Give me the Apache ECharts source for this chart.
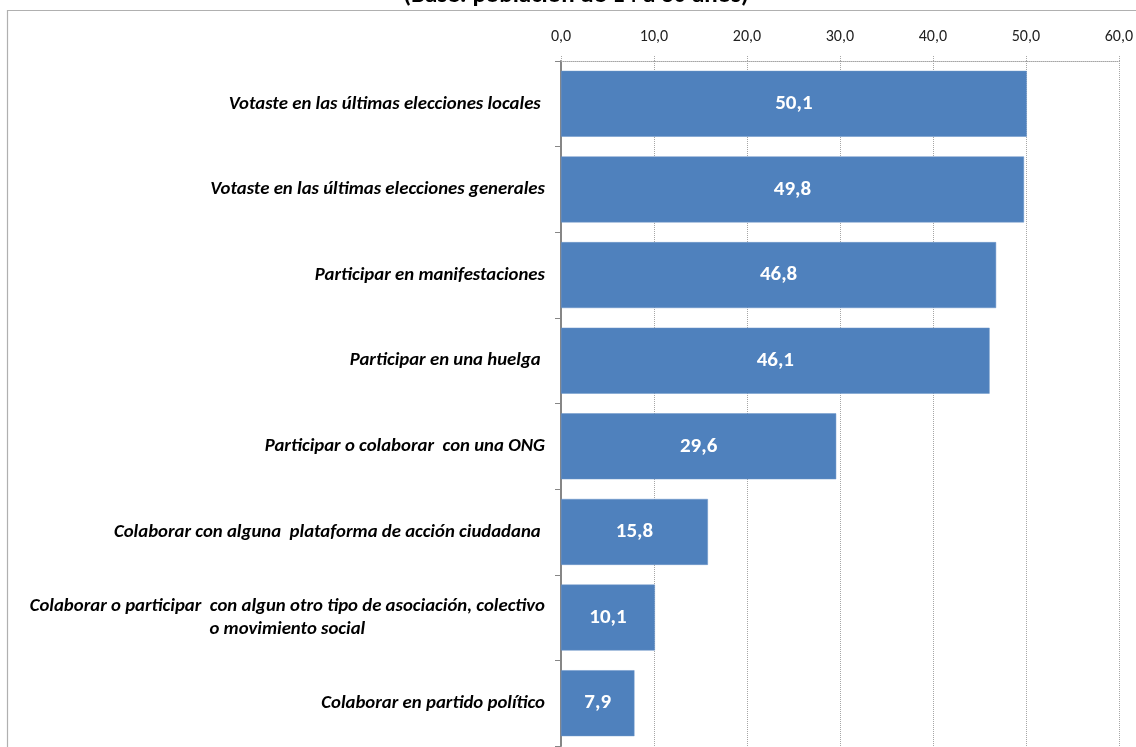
<!DOCTYPE html>
<html><head><meta charset="utf-8">
<script src="https://cdn.jsdelivr.net/npm/echarts@6/dist/echarts.min.js"></script>
<style>html,body{margin:0;padding:0;background:#fff;overflow:hidden}#c{width:1136px;height:747px}</style>
</head><body><div id="c"></div>
<script>
const titleText = '(Base: población de 14 a 30 años)';
const categories = [
  'Votaste en las últimas elecciones locales ',
  'Votaste en las últimas elecciones generales',
  'Participar en manifestaciones',
  'Participar en una huelga ',
  'Participar o colaborar  con una ONG',
  'Colaborar con alguna  plataforma de acción ciudadana ',
  'Colaborar o participar  con algun otro tipo de asociación, colectivo\no movimiento social',
  'Colaborar en partido político'
];
const values = [50.1, 49.8, 46.8, 46.1, 29.6, 15.8, 10.1, 7.9];
const xMin = 0, xMax = 60, xStep = 10;

const FONT = 'Carlito, Lato, sans-serif';
const fmt = v => v.toFixed(1).replace('.', ',');

const chart = echarts.init(document.getElementById('c'));
chart.setOption({
  animation: false,
  backgroundColor: '#fff',
  grid: { left: 561, right: 12, top: 61, bottom: 1, containLabel: false },
  graphic: [
    { type: 'rect', z: 0, shape: { x: 7.5, y: 10.5, width: 1300, height: 900 },
      style: { fill: 'none', stroke: '#b0b0b0', lineWidth: 1.2 }, silent: true },
    { type: 'text', z: 10, x: 576, y: -4,
      style: { text: titleText, fontFamily: FONT, fontWeight: 'bold', fontSize: 25,
               fill: '#000', textAlign: 'center', textVerticalAlign: 'middle' } }
  ],
  xAxis: {
    type: 'value', position: 'top', min: xMin, max: xMax, interval: xStep,
    axisLine: { show: true, lineStyle: { color: '#a6a6a6', type: 'dotted', width: 1 } },
    axisTick: { show: true, length: 5, lineStyle: { color: '#a6a6a6', type: 'dotted' } },
    splitLine: { show: true, lineStyle: { color: '#a6a6a6', type: 'dotted', width: 1 } },
    axisLabel: { formatter: v => fmt(v), margin: 16, fontFamily: FONT, fontSize: 16, color: '#222' }
  },
  yAxis: {
    type: 'category', inverse: true, data: categories,
    axisLine: { show: true, lineStyle: { color: '#868686', width: 2 } },
    axisTick: { show: true, length: 6, lineStyle: { color: '#868686', width: 1 } },
    splitLine: { show: false },
    axisLabel: {
      margin: 16, align: 'right',
      formatter: v => v.split('\n').map(l => '{c|' + l + '}').join('\n'),
      rich: { c: { align: 'center', fontFamily: FONT, fontStyle: 'italic', fontWeight: 'bold',
                   fontSize: 18.8, color: '#000', lineHeight: 23 } }
    }
  },
  series: [{
    type: 'bar', data: values, barCategoryGap: '23%',
    itemStyle: { color: '#4f81bd', borderColor: '#6a95c9', borderWidth: 0.5 },
    label: { show: true, position: 'inside', formatter: p => fmt(p.value),
             fontFamily: FONT, fontWeight: 'bold', fontSize: 21, color: '#fff' }
  }]
});
</script></body></html>
